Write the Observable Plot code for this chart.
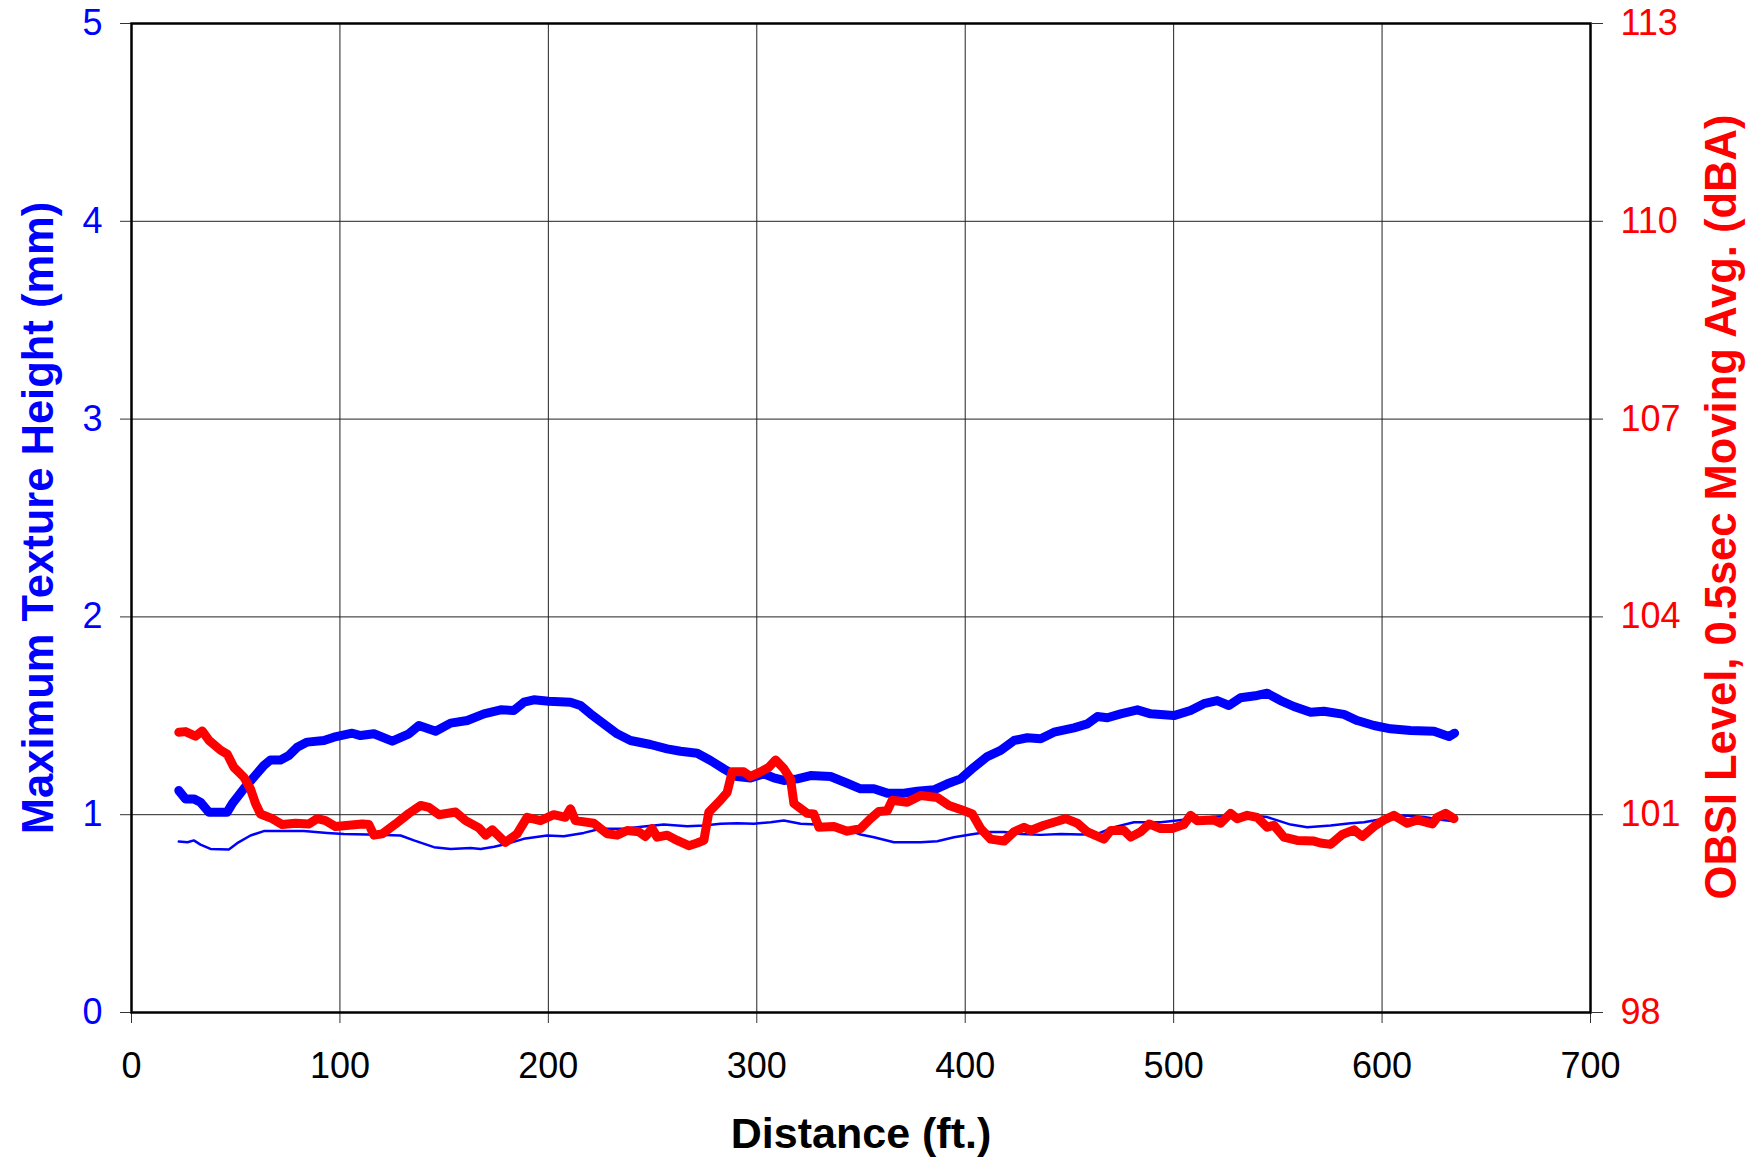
<!DOCTYPE html>
<html>
<head>
<meta charset="utf-8">
<script src="https://cdn.jsdelivr.net/npm/d3@7"></script>
<script src="https://cdn.jsdelivr.net/npm/@observablehq/plot@0.6"></script>
<style>
  body { margin: 0; background: #fff; }
  #chart { position: relative; width: 1762px; height: 1164px; font-family: "Liberation Sans", Arial, sans-serif; }
  #chart svg { position: absolute; left: 0; top: 0; }
</style>
</head>
<body>
<div id="chart"></div>
<script>
// Axis ticks
const distanceTicks = [0, 100, 200, 300, 400, 500, 600, 700];
const textureTicks = [0, 1, 2, 3, 4, 5];
const obsiTicks = [98, 101, 104, 107, 110, 113];

// Maximum texture height, thick trace (mm)
const peakDist = [22.7, 25.9, 29.9, 33.1, 37.1, 45.9, 48.3, 53.9, 58.7, 63.5, 66.7, 71.5, 75.5, 79.5, 84.3, 92.3, 97.1, 105.9, 109.9, 116.3, 125.1, 133.1, 137.9, 145.9, 153.1, 161.1, 169.1, 177.1, 183.4, 188.3, 193.0, 200.2, 210.6, 215.4, 220.2, 226.6, 233.0, 239.4, 249.0, 257.0, 263.4, 271.4, 277.8, 284.2, 290.6, 297.0, 303.4, 308.2, 313.0, 319.4, 325.8, 335.4, 343.4, 349.8, 356.2, 362.6, 370.6, 377.0, 385.0, 391.4, 397.8, 404.2, 410.6, 417.0, 423.4, 429.8, 436.2, 442.6, 452.2, 458.6, 463.4, 468.2, 474.6, 482.6, 489.0, 500.1, 508.1, 514.5, 520.9, 526.5, 532.1, 540.1, 544.9, 551.3, 557.7, 565.7, 572.1, 581.7, 588.1, 596.1, 604.1, 613.7, 624.9, 632.1, 634.8];
const peakMm = [1.122, 1.080, 1.080, 1.063, 1.013, 1.013, 1.055, 1.131, 1.190, 1.249, 1.277, 1.277, 1.299, 1.341, 1.367, 1.375, 1.392, 1.412, 1.400, 1.409, 1.372, 1.409, 1.451, 1.422, 1.463, 1.476, 1.510, 1.530, 1.527, 1.569, 1.581, 1.574, 1.569, 1.552, 1.510, 1.459, 1.409, 1.375, 1.355, 1.333, 1.321, 1.311, 1.274, 1.232, 1.193, 1.186, 1.207, 1.186, 1.173, 1.181, 1.198, 1.193, 1.159, 1.131, 1.131, 1.109, 1.109, 1.119, 1.126, 1.156, 1.181, 1.240, 1.294, 1.325, 1.375, 1.389, 1.384, 1.417, 1.439, 1.459, 1.496, 1.490, 1.510, 1.530, 1.510, 1.501, 1.527, 1.561, 1.577, 1.552, 1.591, 1.603, 1.614, 1.577, 1.547, 1.518, 1.523, 1.507, 1.476, 1.451, 1.434, 1.426, 1.422, 1.395, 1.412];

// Maximum texture height, thin trace (mm)
const baseDist = [22.7, 26.9, 29.9, 33.1, 37.9, 46.7, 50.7, 57.1, 63.5, 74.7, 82.7, 93.9, 101.9, 113.1, 129.1, 135.5, 145.1, 153.1, 162.7, 167.5, 174.0, 180.2, 188.2, 199.4, 207.4, 217.0, 225.0, 236.2, 245.8, 255.4, 266.6, 274.6, 282.6, 290.6, 298.6, 306.6, 313.0, 321.0, 329.0, 335.4, 340.2, 349.8, 356.2, 365.8, 378.6, 386.6, 394.6, 402.6, 410.6, 418.6, 426.6, 436.2, 445.8, 455.4, 463.4, 471.4, 481.0, 493.8, 504.9, 520.9, 536.9, 544.9, 556.1, 564.1, 575.3, 584.9, 591.3, 600.9, 610.5, 620.1, 628.1, 634.5];
const baseMm = [0.864, 0.861, 0.870, 0.849, 0.827, 0.824, 0.856, 0.895, 0.917, 0.917, 0.917, 0.908, 0.903, 0.900, 0.895, 0.870, 0.836, 0.827, 0.832, 0.827, 0.838, 0.853, 0.878, 0.895, 0.891, 0.908, 0.929, 0.929, 0.940, 0.950, 0.942, 0.945, 0.954, 0.957, 0.954, 0.962, 0.971, 0.954, 0.950, 0.950, 0.937, 0.900, 0.886, 0.861, 0.861, 0.866, 0.886, 0.900, 0.912, 0.912, 0.903, 0.898, 0.903, 0.900, 0.903, 0.937, 0.962, 0.962, 0.974, 0.991, 0.996, 0.988, 0.950, 0.937, 0.945, 0.957, 0.962, 0.979, 0.996, 0.988, 0.974, 0.967];

// OBSI level, 0.5 s moving average (dBA)
const obsiDist = [22.7, 25.9, 30.7, 33.9, 37.1, 42.7, 45.9, 49.1, 53.9, 57.1, 59.5, 61.9, 67.5, 72.3, 78.7, 85.1, 89.1, 93.1, 97.9, 104.3, 110.7, 113.9, 116.3, 120.3, 126.7, 133.1, 138.7, 142.7, 147.5, 155.5, 160.3, 166.7, 169.9, 173.1, 179.4, 185.0, 189.8, 196.2, 202.6, 208.2, 210.6, 213.0, 221.8, 228.2, 233.0, 237.8, 243.4, 246.6, 249.8, 252.2, 257.0, 261.8, 267.4, 271.4, 274.6, 277.0, 282.6, 285.8, 288.2, 293.8, 297.0, 301.8, 305.8, 309.0, 313.0, 316.2, 317.8, 324.2, 327.4, 329.8, 337.0, 343.4, 349.8, 354.6, 358.6, 362.6, 365.0, 372.2, 378.6, 386.6, 392.2, 397.8, 403.4, 407.4, 412.2, 418.6, 423.4, 428.2, 431.4, 437.8, 444.2, 448.2, 453.8, 458.6, 466.6, 469.8, 476.2, 479.4, 484.2, 488.2, 493.7, 499.3, 504.9, 508.1, 511.3, 519.3, 522.5, 527.3, 530.5, 535.3, 540.1, 544.9, 548.1, 552.9, 559.3, 567.3, 570.5, 575.3, 580.9, 586.5, 590.5, 596.1, 600.9, 605.7, 612.1, 616.9, 624.1, 626.5, 630.5, 634.5];
const obsiDba = [102.25, 102.26, 102.19, 102.27, 102.13, 101.98, 101.92, 101.72, 101.57, 101.39, 101.17, 101.01, 100.94, 100.85, 100.87, 100.86, 100.94, 100.91, 100.82, 100.84, 100.86, 100.85, 100.69, 100.71, 100.86, 101.02, 101.14, 101.11, 101.00, 101.04, 100.91, 100.80, 100.69, 100.77, 100.58, 100.71, 100.96, 100.91, 101.00, 100.96, 101.09, 100.91, 100.87, 100.71, 100.69, 100.76, 100.74, 100.67, 100.79, 100.66, 100.69, 100.61, 100.53, 100.57, 100.61, 101.04, 101.22, 101.34, 101.65, 101.65, 101.58, 101.65, 101.72, 101.83, 101.70, 101.54, 101.17, 101.02, 101.01, 100.81, 100.82, 100.75, 100.79, 100.94, 101.05, 101.06, 101.22, 101.19, 101.29, 101.26, 101.14, 101.08, 101.01, 100.79, 100.63, 100.60, 100.74, 100.81, 100.76, 100.84, 100.90, 100.94, 100.87, 100.74, 100.63, 100.76, 100.76, 100.66, 100.74, 100.86, 100.79, 100.79, 100.85, 100.99, 100.91, 100.92, 100.87, 101.02, 100.94, 100.99, 100.96, 100.81, 100.84, 100.66, 100.61, 100.60, 100.57, 100.55, 100.70, 100.77, 100.67, 100.82, 100.92, 100.99, 100.87, 100.92, 100.86, 100.96, 101.02, 100.94];

const leftTitle = "Maximum Texture Height (mm)";
const rightTitle = "OBSI Level, 0.5sec Moving Avg. (dBA)";
const xTitle = "Distance (ft.)";

const BLUE = "#0000ff";
const RED = "#ff0000";
const FONT = "'Liberation Sans', Arial, sans-serif";

const frame = {
  width: 1762, height: 1164,
  marginTop: 23, marginRight: 172, marginBottom: 152, marginLeft: 131
};
const baseStyle = { fontFamily: FONT, fontSize: "36px", background: "transparent", overflow: "visible" };

// Base layer: grid, distance axis, texture-height axis and the two blue traces
const texturePlot = Plot.plot({
  ...frame,
  style: baseStyle,
  x: { domain: [0, 700], axis: null },
  y: { domain: [0, 5], axis: null },
  marks: [
    Plot.gridX(distanceTicks, { stroke: "#222", strokeOpacity: 1, strokeWidth: 1 }),
    Plot.gridY(textureTicks, { stroke: "#222", strokeOpacity: 1, strokeWidth: 1 }),
    Plot.axisX(distanceTicks, {
      anchor: "bottom", tickSize: 11, tickPadding: 29, stroke: "#333", fill: "#000",
      fontSize: 36, tickFormat: d => String(d)
    }),
    Plot.axisY(textureTicks, {
      anchor: "left", tickSize: 11, tickPadding: 18, stroke: "#333", fill: BLUE,
      fontSize: 36, tickFormat: d => String(d)
    }),
    Plot.line(baseDist, { x: baseDist, y: baseMm, stroke: BLUE, strokeWidth: 2.5, strokeLinejoin: "round", strokeLinecap: "round" }),
    Plot.line(peakDist, { x: peakDist, y: peakMm, stroke: BLUE, strokeWidth: 9, strokeLinejoin: "round", strokeLinecap: "round" }),
    Plot.frame({ stroke: "#000", strokeWidth: 2.5 }),
    Plot.text([leftTitle], {
      text: d => d, frameAnchor: "left", dx: -92, rotate: -90,
      textAnchor: "middle", lineAnchor: "middle",
      fill: BLUE, fontWeight: "bold", fontSize: 43.5
    }),
    Plot.text([xTitle], {
      text: d => d, frameAnchor: "bottom", dy: 122,
      textAnchor: "middle", lineAnchor: "middle",
      fill: "#000", fontWeight: "bold", fontSize: 43
    })
  ]
});

// Overlay layer: OBSI level on its own dBA scale with the right-hand axis
const obsiPlot = Plot.plot({
  ...frame,
  style: baseStyle,
  x: { domain: [0, 700], axis: null },
  y: { domain: [98, 113], axis: null },
  marks: [
    Plot.axisY(obsiTicks, {
      anchor: "right", tickSize: 12, tickPadding: 18, stroke: "#333", fill: RED,
      fontSize: 36, tickFormat: d => String(d)
    }),
    Plot.line(obsiDist, { x: obsiDist, y: obsiDba, stroke: RED, strokeWidth: 9, strokeLinejoin: "round", strokeLinecap: "round" }),
    Plot.text([rightTitle], {
      text: d => d, frameAnchor: "right", dx: 132, dy: -11, rotate: -90,
      textAnchor: "middle", lineAnchor: "middle",
      fill: RED, fontWeight: "bold", fontSize: 43.5
    })
  ]
});

const chart = document.getElementById("chart");
chart.appendChild(texturePlot);
chart.appendChild(obsiPlot);
</script>
</body>
</html>
